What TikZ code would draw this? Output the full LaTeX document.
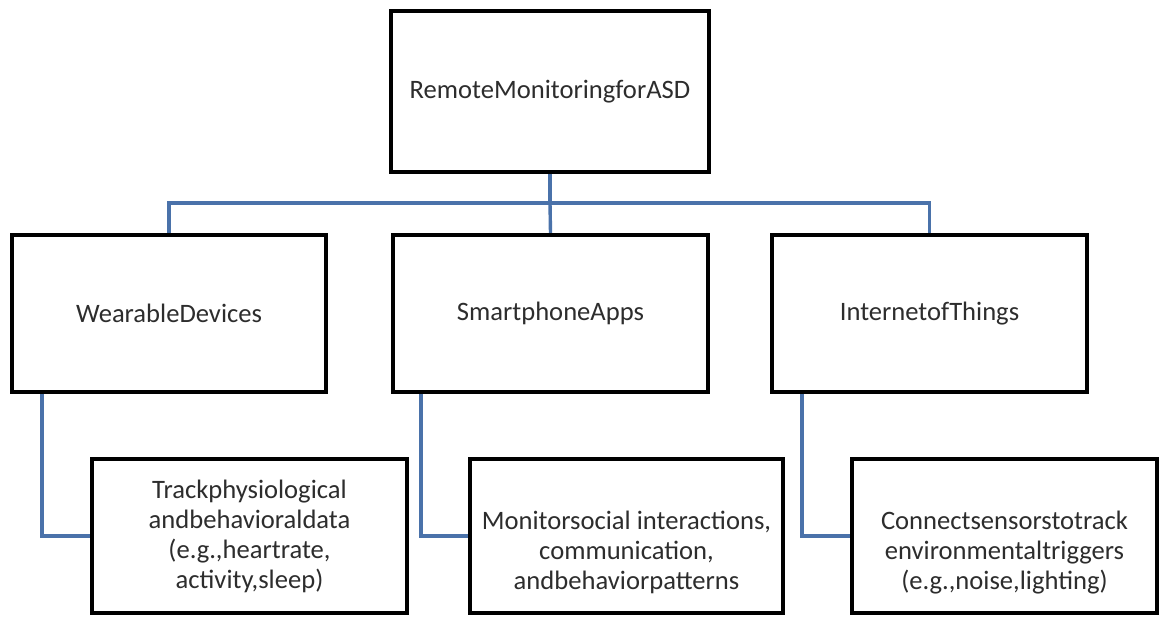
\documentclass[tikz,border=0pt]{standalone}
\usepackage{fontspec}
\setmainfont{Carlito}
\definecolor{connblue}{RGB}{74,114,170}
\definecolor{txtgray}{RGB}{45,45,45}
\begin{document}
\begin{tikzpicture}[x=1pt,y=-1pt,
  box/.style={draw=black,line width=4.2pt,fill=white,rectangle,inner sep=0pt,
    align=center,text=txtgray,font=\fontsize{26.6}{30}\selectfont},
  conn/.style={draw=connblue,line width=3.4pt}]
\useasboundingbox[fill=white] (0,0) rectangle (1159,616);
\node[box,minimum width=318pt,minimum height=161pt] (top) at (550,91.5) {RemoteMonitoringforASD};
\node[box,minimum width=314pt,minimum height=157pt] (wear) at (169,313.5) {WearableDevices};
\node[box,minimum width=315pt,minimum height=157pt] (smart) at (550.5,313.5) {SmartphoneApps};
\node[box,minimum width=315pt,minimum height=157pt] (iot) at (929.5,313.5) {InternetofThings};
\node[box,minimum width=315pt,minimum height=154pt] (b1) at (249.5,536) {Trackphysiological\\andbehavioraldata\\(e.g.,heartrate,\\activity,sleep)};
\node[box,minimum width=313pt,minimum height=154pt] (b2) at (626.5,536) {\strut\\Monitorsocial interactions,\\communication,\\andbehaviorpatterns};
\node[box,minimum width=305pt,minimum height=154pt] (b3) at (1004.5,536) {\strut\\Connectsensorstotrack\\environmentaltriggers\\(e.g.,noise,lighting)};
\coordinate (hub) at (550,203);
\draw[conn] (top.south) -- (hub);
\draw[conn] (wear.north) |- (hub) -| (iot.north);
\draw[conn] (hub) -- (smart.north);
\draw[conn] ([xshift=32pt]wear.south west) |- (b1.west);
\draw[conn] ([xshift=30pt]smart.south west) |- (b2.west);
\draw[conn] ([xshift=32pt]iot.south west) |- (b3.west);
\end{tikzpicture}
\end{document}
